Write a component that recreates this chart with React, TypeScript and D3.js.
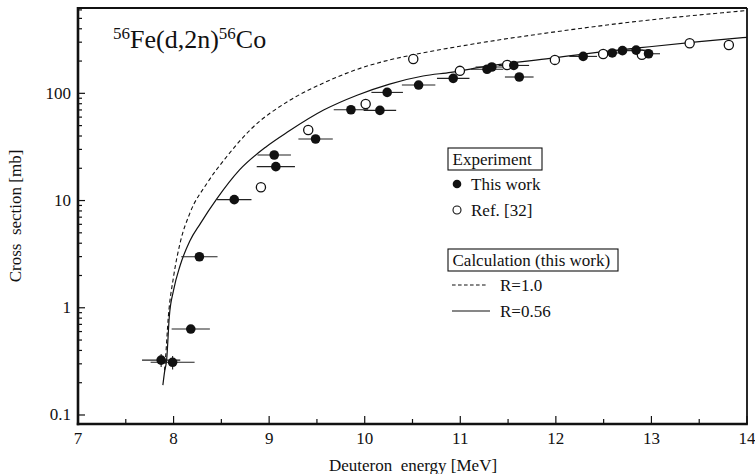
import React from "react";
import * as d3 from "d3";

// Experimental excitation function, this work (filled circles)
const thisWorkE = [7.87, 7.99, 8.18, 8.27, 8.635, 9.053, 9.07, 9.486, 9.856, 10.159, 10.235, 10.564, 10.926, 11.28, 11.33, 11.56, 11.617, 12.286, 12.59, 12.697, 12.84, 12.97];
const thisWorkSigma = [0.325, 0.31, 0.633, 2.99, 10.2, 26.6, 20.7, 37.5, 70.3, 69.3, 102, 119.5, 138, 167.7, 176, 182, 142, 221, 238, 250, 253, 234];
const thisWorkEErr = [0.2, 0.23, 0.2, 0.19, 0.18, 0.175, 0.2, 0.18, 0.18, 0.17, 0.165, 0.175, 0.17, 0.17, 0.17, 0.16, 0.15, 0.145, 0.14, 0.14, 0.14, 0.12];
const thisWorkSigmaErr = [0.045, 0.045, 0, 0, 0, 0, 0, 0, 0, 0, 0, 0, 0, 0, 0, 0, 0, 0, 0, 0, 0, 0];

// Literature values, Ref. [32] (open circles)
const ref32E = [8.914, 9.409, 10.01, 10.508, 10.996, 11.49, 11.99, 12.495, 12.9, 13.4, 13.81];
const ref32Sigma = [13.3, 45.5, 79.4, 209, 162, 184, 205, 233, 229, 293, 282];

// Model calculation, R = 0.56 (solid)
const calcSolidE = [7.888, 7.905, 7.928, 7.955, 8.0, 8.067, 8.17, 8.28, 8.45, 8.69, 8.97, 9.2, 9.57, 9.92, 10.26, 10.61, 10.9, 11.3, 11.94, 12.5, 12.98, 13.5, 14.0];
const calcSolidSigma = [0.19, 0.25, 0.33, 0.82, 1.46, 2.45, 4.2, 6.1, 10.3, 19.3, 31.8, 44, 69.8, 96, 122, 145, 157, 180, 212, 245, 272, 303, 333];

// Model calculation, R = 1.0 (dashed)
const calcDashedE = [7.905, 7.915, 7.945, 8.0, 8.067, 8.17, 8.35, 8.555, 8.8, 9.22, 9.57, 9.9, 10.26, 10.5, 11.1, 11.95, 12.86, 14.0];
const calcDashedSigma = [0.26, 0.33, 0.82, 1.95, 3.98, 7.6, 14.5, 25.6, 45.5, 86.5, 125, 165, 205, 228, 285, 370, 470, 592];

const xMajorTicks = [7, 8, 9, 10, 11, 12, 13, 14];
const yMajorTicks = [0.1, 1, 10, 100];
const yTickLabels = ["0.1", "1", "10", "100"];

const W = 755;
const H = 474;
const left = 78;
const right = 747;
const top = 8;
const bottom = 424;

const FONT = "Liberation Serif, Times New Roman, DejaVu Serif, serif";

export default function App() {
  const x = d3.scaleLinear().domain([7, 14]).range([left, right]);
  const y = d3.scaleLog().domain([0.0824, 625]).range([bottom, top]);

  const line = d3
    .line<[number, number]>()
    .x((d) => x(d[0]))
    .y((d) => y(d[1]))
    .curve(d3.curveMonotoneX);

  const solidPath = line(calcSolidE.map((e, i) => [e, calcSolidSigma[i]]) as [number, number][]) || "";
  const dashedPath = line(calcDashedE.map((e, i) => [e, calcDashedSigma[i]]) as [number, number][]) || "";

  const xMinor = d3.range(7.5, 14, 1);
  const yMinor: number[] = [];
  for (let dec = 0.1; dec < 1000; dec *= 10) {
    for (let m = 2; m <= 9; m++) {
      const v = +(dec * m).toPrecision(3);
      if (v > y.domain()[0] && v < y.domain()[1]) yMinor.push(v);
    }
  }

  return (
    <svg
      width={W}
      height={H}
      style={{ position: "absolute", left: 0, top: 0, background: "#fff", fontFamily: FONT }}
    >
      <rect x={0} y={0} width={W} height={H} fill="#fff" />
      <defs>
        <clipPath id="plotArea">
          <rect x={left} y={top} width={right - left} height={bottom - top} />
        </clipPath>
      </defs>

      {/* curves */}
      <g clipPath="url(#plotArea)" fill="none" stroke="#111">
        <path d={dashedPath} strokeWidth={1.1} strokeDasharray="4,2.8" />
        <path d={solidPath} strokeWidth={1.2} />
      </g>

      {/* error bars */}
      <g stroke="#222" strokeWidth={1.1}>
        {thisWorkE.map((e, i) => (
          <line key={"h" + i} x1={x(e - thisWorkEErr[i])} x2={x(e + thisWorkEErr[i])} y1={y(thisWorkSigma[i])} y2={y(thisWorkSigma[i])} />
        ))}
        {thisWorkE.map((e, i) =>
          thisWorkSigmaErr[i] > 0 ? (
            <line
              key={"v" + i}
              x1={x(e)}
              x2={x(e)}
              y1={y(thisWorkSigma[i] - thisWorkSigmaErr[i])}
              y2={y(thisWorkSigma[i] + thisWorkSigmaErr[i])}
            />
          ) : null
        )}
      </g>

      {/* data points */}
      <g>
        {ref32E.map((e, i) => (
          <circle key={"o" + i} cx={x(e)} cy={y(ref32Sigma[i])} r={4.6} fill="#fff" stroke="#111" strokeWidth={1.3} />
        ))}
        {thisWorkE.map((e, i) => (
          <circle key={"f" + i} cx={x(e)} cy={y(thisWorkSigma[i])} r={4.8} fill="#111" />
        ))}
      </g>

      {/* frame */}
      <g stroke="#111" fill="none">
        <line x1={left} x2={right} y1={top} y2={top} strokeWidth={1.8} />
        <line x1={right} x2={right} y1={top} y2={bottom} strokeWidth={1.8} />
        <line x1={left} x2={left} y1={top - 0.9} y2={bottom + 1.2} strokeWidth={2.6} />
        <line x1={left - 1.2} x2={right + 0.9} y1={bottom} y2={bottom} strokeWidth={2.6} />
      </g>

      {/* x ticks */}
      <g stroke="#111" strokeWidth={1.2}>
        {xMajorTicks.map((t) => (
          <line key={"xm" + t} x1={x(t)} x2={x(t)} y1={bottom} y2={bottom - 8} />
        ))}
        {xMinor.map((t) => (
          <line key={"xn" + t} x1={x(t)} x2={x(t)} y1={bottom} y2={bottom - 5} />
        ))}
      </g>
      <g fontSize={17} textAnchor="middle" fill="#111" fontFamily={FONT}>
        {xMajorTicks.map((t) => (
          <text key={"xl" + t} x={x(t)} y={444}>
            {t}
          </text>
        ))}
      </g>

      {/* y ticks */}
      <g stroke="#111" strokeWidth={1.2}>
        {yMajorTicks.map((t) => (
          <line key={"ym" + t} x1={left} x2={left + 7} y1={y(t)} y2={y(t)} />
        ))}
        {yMinor.map((t) => (
          <line key={"yn" + t} x1={left} x2={left + 4} y1={y(t)} y2={y(t)} />
        ))}
      </g>
      <g fontSize={17} textAnchor="end" fill="#111" fontFamily={FONT}>
        {yMajorTicks.map((t, i) => (
          <text key={"yl" + t} x={71} y={y(t) + 5.5}>
            {yTickLabels[i]}
          </text>
        ))}
      </g>

      {/* axis titles */}
      <text x={413} y={471} fontSize={17} textAnchor="middle" fill="#111" fontFamily={FONT} style={{ whiteSpace: "pre" }}>
        {"Deuteron  energy [MeV]"}
      </text>
      <text
        transform="translate(21,216) rotate(-90)"
        fontSize={17}
        textAnchor="middle"
        fill="#111"
        fontFamily={FONT}
        style={{ whiteSpace: "pre" }}
      >
        {"Cross  section [mb]"}
      </text>

      {/* reaction label */}
      <text x={113} y={48} fontSize={26} fill="#111" fontFamily={FONT}>
        <tspan fontSize={17} dy={-9}>56</tspan>
        <tspan dy={9}>Fe(d,2n)</tspan>
        <tspan fontSize={17} dy={-9}>56</tspan>
        <tspan dy={9}>Co</tspan>
      </text>

      {/* legend */}
      <g fill="#111" fontSize={17} fontFamily={FONT}>
        <rect x={448} y={148} width={94} height={22} fill="#fff" stroke="#111" strokeWidth={1.1} />
        <text x={452.5} y={165}>Experiment</text>
        <circle cx={457} cy={184} r={4.3} fill="#111" />
        <text x={471} y={190}>This work</text>
        <circle cx={457} cy={210} r={4} fill="#fff" stroke="#111" strokeWidth={1.1} />
        <text x={471} y={216}>Ref. [32]</text>

        <rect x={448} y={249} width={170} height={22} fill="#fff" stroke="#111" strokeWidth={1.1} />
        <text x={452.5} y={266}>Calculation (this work)</text>
        <line x1={452} x2={488} y1={285} y2={285} stroke="#111" strokeWidth={1.1} strokeDasharray="3.6,2.4" />
        <text x={500} y={291}>R=1.0</text>
        <line x1={452} x2={490} y1={311} y2={311} stroke="#111" strokeWidth={1.1} />
        <text x={500} y={317}>R=0.56</text>
      </g>
    </svg>
  );
}
